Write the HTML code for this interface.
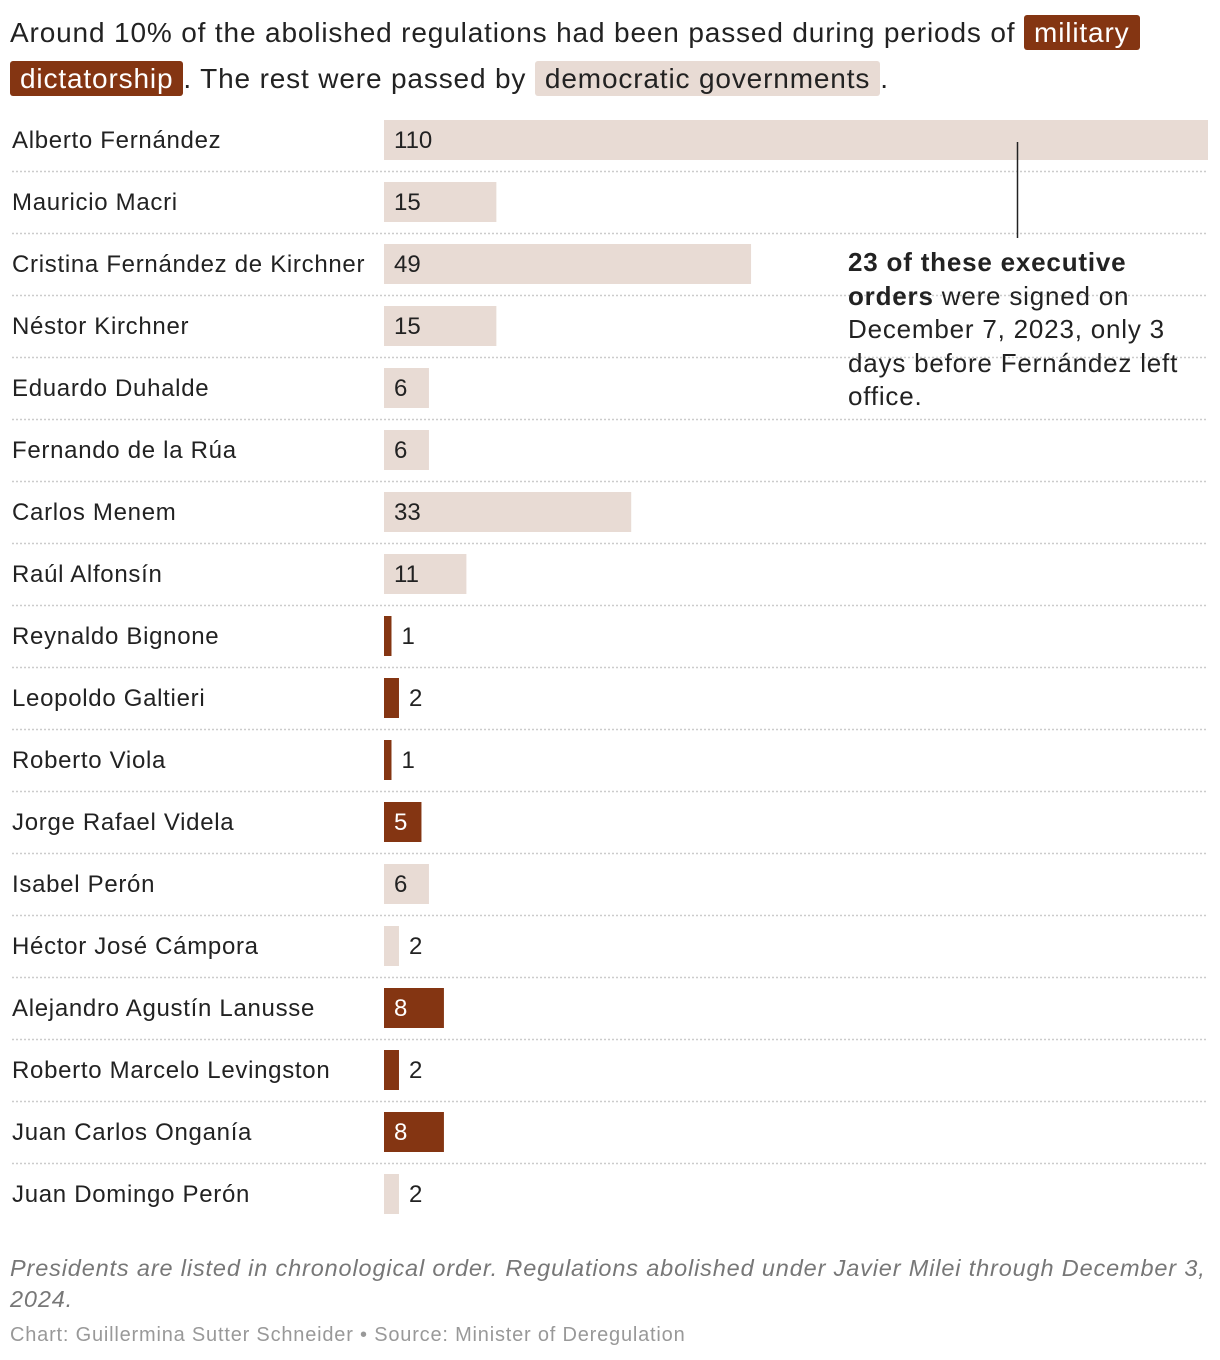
<!DOCTYPE html>
<html><head><meta charset="utf-8"><style>
body{margin:0;background:#fff;width:1220px;height:1360px;font-family:"Liberation Sans",sans-serif;color:#222;position:relative;overflow:hidden}
.title{position:absolute;left:10px;top:10px;width:1210px;font-size:28px;line-height:46px;letter-spacing:0.85px;white-space:nowrap}
.hl{padding:2px 10px;border-radius:3px}
.mil{background:#843512;color:#fff}
.dem{background:#e8dbd4;color:#222}
.note{position:absolute;left:10px;top:1253px;font-size:23.5px;font-style:italic;color:#777;line-height:31px;width:1210px;letter-spacing:0.85px;white-space:nowrap}
.src{position:absolute;left:10px;top:1324px;font-size:20px;color:#999;letter-spacing:0.8px;white-space:nowrap}
.ann{position:absolute;left:848px;top:246px;font-size:26px;line-height:33.5px;width:370px;white-space:nowrap;letter-spacing:0.8px}
</style></head><body>
<div class="title">Around 10% of the abolished regulations had been passed during periods of <span class="hl mil">military</span><br><span class="hl mil">dictatorship</span>. The rest were passed by <span class="hl dem">democratic governments</span>.</div>
<svg id="chart" width="1220" height="1240" style="position:absolute;left:0;top:0"></svg>
<div class="ann"><b>23 of these executive</b><br><b>orders</b> were signed on<br>December 7, 2023, only 3<br>days before Fernández left<br>office.</div>
<div class="note">Presidents are listed in chronological order. Regulations abolished under Javier Milei through December 3,<br>2024.</div>
<div class="src">Chart: Guillermina Sutter Schneider • Source: Minister of Deregulation</div>
<script>
const presidents=["Alberto Fernández","Mauricio Macri","Cristina Fernández de Kirchner","Néstor Kirchner","Eduardo Duhalde","Fernando de la Rúa","Carlos Menem","Raúl Alfonsín","Reynaldo Bignone","Leopoldo Galtieri","Roberto Viola","Jorge Rafael Videla","Isabel Perón","Héctor José Cámpora","Alejandro Agustín Lanusse","Roberto Marcelo Levingston","Juan Carlos Onganía","Juan Domingo Perón"];
const counts=[110,15,49,15,6,6,33,11,1,2,1,5,6,2,8,2,8,2];
const military=[0,0,0,0,0,0,0,0,1,1,1,1,0,0,1,1,1,0];
const svg=document.getElementById('chart');
const NS='http://www.w3.org/2000/svg';
const x0=384,x1=1208,maxV=110;
const xs=v=>(v/maxV)*(x1-x0);
const yRow=i=>120+i*62;
function mk(t,a){const e=document.createElementNS(NS,t);for(const k in a)e.setAttribute(k,a[k]);svg.appendChild(e);return e;}
presidents.forEach((p,i)=>{
  const y=yRow(i);
  const lab=mk('text',{x:12,y:y+28,'font-size':24,fill:'#222','letter-spacing':'0.7'});
  lab.textContent=p;
  
  
  const w=xs(counts[i]);
  const bar=mk('rect',{x:x0,y:y,width:w,height:40,fill:military[i]?'#843512':'#e8dbd4'});
  
  
  const inside=w>=36;
  const vt=mk('text',{x:inside?x0+10:x0+w+10,y:y+28,'font-size':24,fill:inside&&military[i]?'#fff':'#222'});
  vt.textContent=counts[i];
  
  
  if(i<presidents.length-1){
    const ln=mk('line',{x1:12,x2:1208,y1:y+51.5,y2:y+51.5,stroke:'#ccc','stroke-width':1.5,'stroke-dasharray':'2,2'});
    
    
  }
});
const al=mk('line',{x1:1017.5,x2:1017.5,y1:142,y2:238,stroke:'#222','stroke-width':1.5});


</script>
</body></html>
